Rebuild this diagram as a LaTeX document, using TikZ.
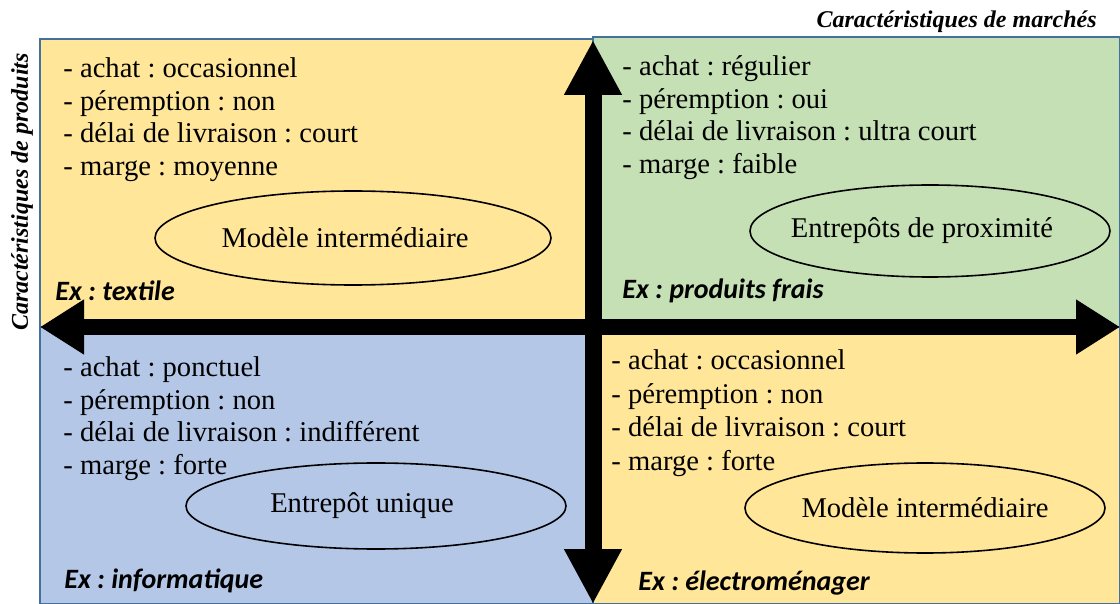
\documentclass[tikz,border=0pt]{standalone}
\usepackage{fontspec}
\setmainfont{Liberation Serif}
\newfontfamily\exfont{Carlito}
\usetikzlibrary{arrows.meta,shapes.geometric}
\definecolor{jaune}{HTML}{FFE699}
\definecolor{vert}{HTML}{C5E0B4}
\definecolor{bleu}{HTML}{B4C7E7}
\definecolor{bord}{HTML}{41719C}
\frenchspacing

\begin{document}
\begin{tikzpicture}[x=0.5pt, y=-0.5pt, every node/.style={inner sep=0pt, font=\fontsize{14.3}{16.4}\selectfont},
  liste/.style={anchor=north west, align=left},
  modele/.style={draw, ellipse, line width=0.8pt},
  exemple/.style={anchor=base west, font=\fontsize{14}{16}\selectfont\exfont\bfseries\itshape},
  axe/.style={font=\fontsize{12}{14}\selectfont\bfseries\itshape},
  quad/.style={draw=bord, line width=0.6pt},
  fleche/.style={line width=#1}]
\useasboundingbox (0,0) rectangle (1120,604);
\draw[quad, fill=jaune] (40,39) rectangle (593,327);
\draw[quad, fill=vert] (593,37) rectangle (1120,327);
\draw[quad, fill=bleu] (40,327) rectangle (593,604);
\draw[quad, fill=jaune] (593,327) rectangle (1120,604);

\node[liste] (occas) at (63,57) {- achat : occasionnel\\- péremption : non\\- délai de livraison : court\\- marge : moyenne};
\node[liste] (regul) at (622,55) {- achat : régulier\\- péremption : oui\\- délai de livraison : ultra court\\- marge : faible};
\node[liste] (ponct) at (63,356) {- achat : ponctuel\\- péremption : non\\- délai de livraison : indifférent\\- marge : forte};
\node[liste, font=\fontsize{14.3}{16.9}\selectfont] (occasB) at (611,349) {- achat : occasionnel\\- péremption : non\\- délai de livraison : court\\- marge : forte};

\node[modele, minimum width=198pt, minimum height=47pt] (inter) at (353,238) {\hspace{-8pt}Modèle intermédiaire};
\node[modele, minimum width=180pt, minimum height=46pt] (proxi) at (930,231) {\hspace{-8pt}Entrepôts de proximité};
\node[modele, minimum width=190pt, minimum height=43pt] (unique) at (376,506) {\hspace{-14pt}Entrepôt unique};
\node[modele, minimum width=180pt, minimum height=45pt] (interB) at (925,508) {Modèle intermédiaire};

\node[exemple] (textile) at (55,301) {Ex : textile};
\node[exemple] (frais) at (622,299) {Ex : produits frais};
\node[exemple] (info) at (64,588) {Ex : informatique};
\node[exemple] (electro) at (638,590) {Ex : électroménager};

\node[axe, anchor=base east] (marches) at (1097,28) {Caractéristiques de marchés};
\node[axe, rotate=90] (produits) at (22,192) {Caractéristiques de produits};

\coordinate (axW) at (40,327);
\coordinate (axE) at (1120,327);
\coordinate (axN) at (593,40);
\coordinate (axS) at (593,604);
\draw[fleche=8pt, {Triangle[length=22pt,width=26pt]}-{Triangle[length=22pt,width=26pt]}] (axW) -- (axE);
\draw[fleche=8.5pt, {Triangle[length=27.5pt,width=27pt]}-{Triangle[length=27.5pt,width=27pt]}] (axN) -- (axS);
\end{tikzpicture}
\end{document}
